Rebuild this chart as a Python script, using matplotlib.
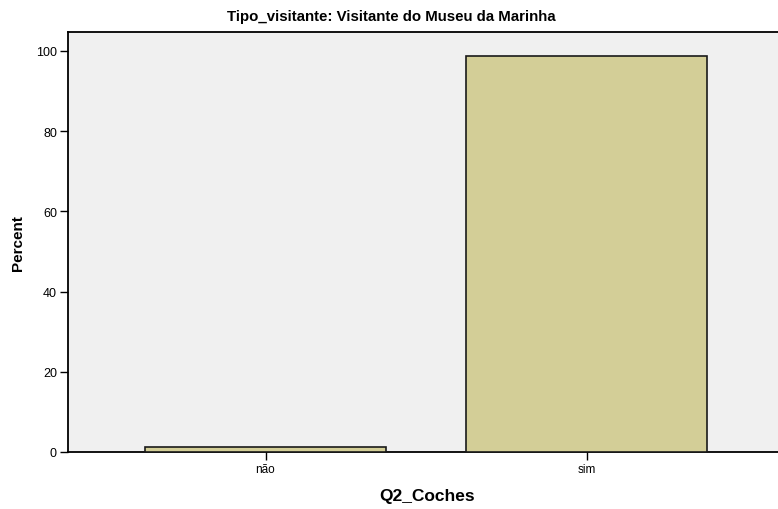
import matplotlib
matplotlib.use("Agg")
import matplotlib.pyplot as plt

categories = ["não", "sim"]
percent = [1.25, 98.75]
yticks = [0, 20, 40, 60, 80, 100]
title = "Tipo_visitante: Visitante do Museu da Marinha"

plt.rcParams['font.family'] = ['Liberation Sans', 'DejaVu Sans']

fig = plt.figure(figsize=(7.78, 5.10), dpi=100)
ax = fig.add_axes([68/778, 57/510, 1 - 68/778 + 0.01, (453-33)/510])
ax.set_facecolor('#F0F0F0')

x = list(range(len(categories)))
ax.bar(x, percent, width=0.75, color='#D3CE97', edgecolor='#1a1a1a', linewidth=1.2, zorder=3)

ax.set_xlim(-0.615, 1.62)
ax.set_ylim(0, 104.7)
ax.set_xticks(x)
ax.set_xticklabels(categories, fontsize=8.5)
ax.set_yticks(yticks)
ax.set_yticklabels([str(v) for v in yticks], fontsize=9)
ax.tick_params(axis='both', direction='out', length=6, width=1, colors='black', pad=2)

for s in ['left', 'bottom', 'top']:
    ax.spines[s].set_linewidth(1.3)
    ax.spines[s].set_color('black')
ax.spines['right'].set_visible(False)

ax.set_ylabel("Percent", fontsize=11, fontweight='bold', labelpad=8)
ax.set_xlabel("Q2_Coches", fontsize=12.5, fontweight='bold', labelpad=9)
fig.text(0.5 + 0.003, 1 - 17/510, title, ha='center', va='center', fontsize=10.8, fontweight='bold')

fig.savefig("out.png", dpi=100, facecolor='white')
